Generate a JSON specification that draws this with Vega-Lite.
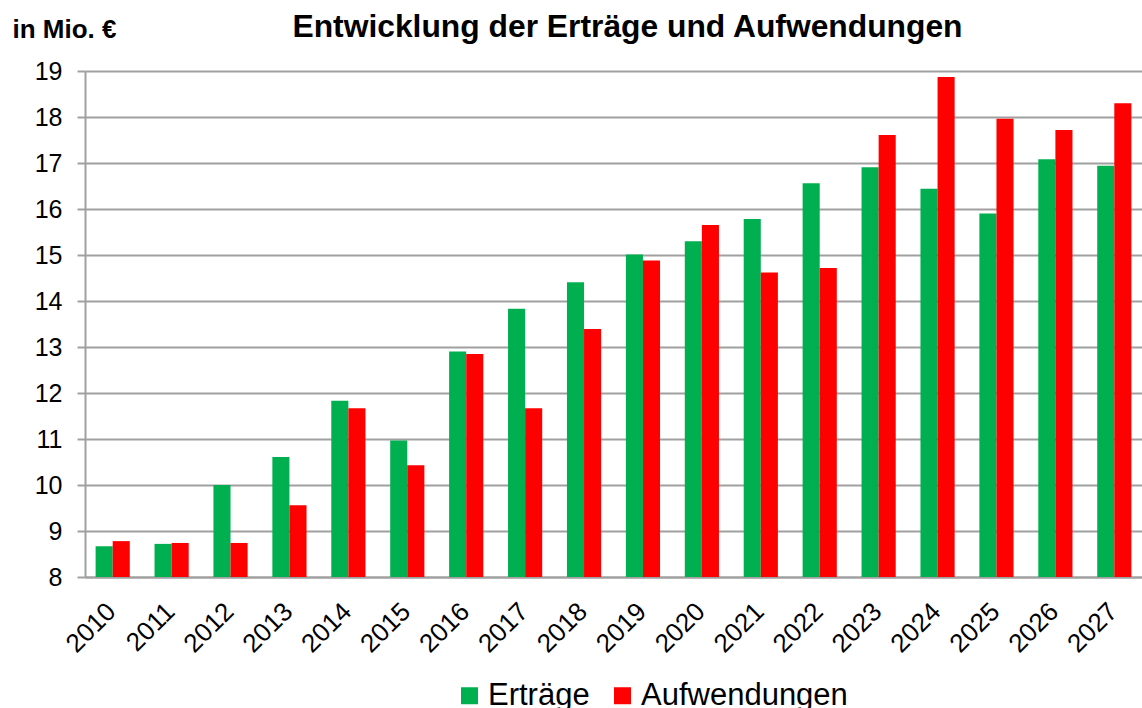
{
  "$schema": "https://vega.github.io/schema/vega-lite/v6.json",
  "autosize": "none",
  "width": 1057,
  "height": 506,
  "padding": {"left": 85, "top": 71, "right": 0, "bottom": 131},
  "background": "white",
  "title": {
    "text": "Entwicklung der Erträge und Aufwendungen",
    "font": "Liberation Sans",
    "fontSize": 31.8,
    "fontWeight": "bold",
    "color": "black",
    "anchor": "middle",
    "frame": "group",
    "baseline": "alphabetic",
    "offset": -23,
    "dy": 30,
    "dx": 14
  },
  "data": {
    "values": [
      {"Jahr": "2010", "Art": "Erträge", "Wert": 8.67},
      {"Jahr": "2010", "Art": "Aufwendungen", "Wert": 8.78},
      {"Jahr": "2011", "Art": "Erträge", "Wert": 8.72},
      {"Jahr": "2011", "Art": "Aufwendungen", "Wert": 8.74},
      {"Jahr": "2012", "Art": "Erträge", "Wert": 10.0},
      {"Jahr": "2012", "Art": "Aufwendungen", "Wert": 8.74},
      {"Jahr": "2013", "Art": "Erträge", "Wert": 10.61},
      {"Jahr": "2013", "Art": "Aufwendungen", "Wert": 9.56},
      {"Jahr": "2014", "Art": "Erträge", "Wert": 11.83},
      {"Jahr": "2014", "Art": "Aufwendungen", "Wert": 11.67},
      {"Jahr": "2015", "Art": "Erträge", "Wert": 10.97},
      {"Jahr": "2015", "Art": "Aufwendungen", "Wert": 10.43},
      {"Jahr": "2016", "Art": "Erträge", "Wert": 12.9},
      {"Jahr": "2016", "Art": "Aufwendungen", "Wert": 12.85},
      {"Jahr": "2017", "Art": "Erträge", "Wert": 13.83},
      {"Jahr": "2017", "Art": "Aufwendungen", "Wert": 11.67},
      {"Jahr": "2018", "Art": "Erträge", "Wert": 14.41},
      {"Jahr": "2018", "Art": "Aufwendungen", "Wert": 13.39},
      {"Jahr": "2019", "Art": "Erträge", "Wert": 15.01},
      {"Jahr": "2019", "Art": "Aufwendungen", "Wert": 14.88},
      {"Jahr": "2020", "Art": "Erträge", "Wert": 15.3},
      {"Jahr": "2020", "Art": "Aufwendungen", "Wert": 15.65},
      {"Jahr": "2021", "Art": "Erträge", "Wert": 15.78},
      {"Jahr": "2021", "Art": "Aufwendungen", "Wert": 14.62},
      {"Jahr": "2022", "Art": "Erträge", "Wert": 16.56},
      {"Jahr": "2022", "Art": "Aufwendungen", "Wert": 14.72},
      {"Jahr": "2023", "Art": "Erträge", "Wert": 16.91},
      {"Jahr": "2023", "Art": "Aufwendungen", "Wert": 17.61},
      {"Jahr": "2024", "Art": "Erträge", "Wert": 16.44},
      {"Jahr": "2024", "Art": "Aufwendungen", "Wert": 18.87},
      {"Jahr": "2025", "Art": "Erträge", "Wert": 15.9},
      {"Jahr": "2025", "Art": "Aufwendungen", "Wert": 17.96},
      {"Jahr": "2026", "Art": "Erträge", "Wert": 17.08},
      {"Jahr": "2026", "Art": "Aufwendungen", "Wert": 17.72},
      {"Jahr": "2027", "Art": "Erträge", "Wert": 16.94},
      {"Jahr": "2027", "Art": "Aufwendungen", "Wert": 18.3}
    ]
  },
  "mark": {"type": "bar"},
  "encoding": {
    "x": {
      "field": "Jahr",
      "type": "nominal",
      "scale": {"paddingInner": 0.42, "paddingOuter": 0.18},
      "axis": {
        "title": null,
        "labelAngle": -45,
        "labelAlign": "right",
        "labelBaseline": "middle",
        "labelPadding": 30,
        "labelOffset": -1,
        "labelFont": "Liberation Sans",
        "labelFontSize": 26,
        "labelColor": "black",
        "ticks": false,
        "tickSize": 0,
        "domainColor": "#a0a0a0",
        "domainWidth": 2,
        "grid": false
      }
    },
    "xOffset": {"field": "Art", "type": "nominal", "sort": ["Erträge", "Aufwendungen"], "scale": {"paddingInner": 0, "paddingOuter": 0}},
    "y": {
      "field": "Wert",
      "type": "quantitative",
      "scale": {"domain": [8, 19], "zero": false, "nice": false},
      "axis": {
        "values": [8, 9, 10, 11, 12, 13, 14, 15, 16, 17, 18, 19],
        "title": "in Mio. €",
        "titleAngle": 0,
        "titleAlign": "left",
        "titleBaseline": "alphabetic",
        "titleX": -73,
        "titleY": -34,
        "titleFont": "Liberation Sans",
        "titleFontSize": 26,
        "titleFontWeight": "bold",
        "titleColor": "black",
        "labelFont": "Liberation Sans",
        "labelFontSize": 25,
        "labelColor": "black",
        "labelPadding": 15,
        "tickSize": 8,
        "tickColor": "#a0a0a0",
        "tickWidth": 2,
        "domainColor": "#a0a0a0",
        "domainWidth": 2,
        "gridColor": "#a0a0a0",
        "gridWidth": 2
      }
    },
    "y2": {"datum": 8},
    "color": {
      "field": "Art",
      "type": "nominal",
      "scale": {"domain": ["Erträge", "Aufwendungen"], "range": ["#00B050", "#FF0000"]},
      "legend": {
        "title": null,
        "orient": "none",
        "direction": "horizontal",
        "legendX": 369,
        "legendY": 609,
        "symbolType": "square",
        "symbolSize": 289,
        "symbolStrokeWidth": 0,
        "labelFont": "Liberation Sans",
        "labelFontSize": 31,
        "labelColor": "black",
        "labelOffset": 3,
        "labelLimit": 400,
        "columnPadding": 17
      }
    }
  },
  "config": {"view": {"stroke": null}}
}
